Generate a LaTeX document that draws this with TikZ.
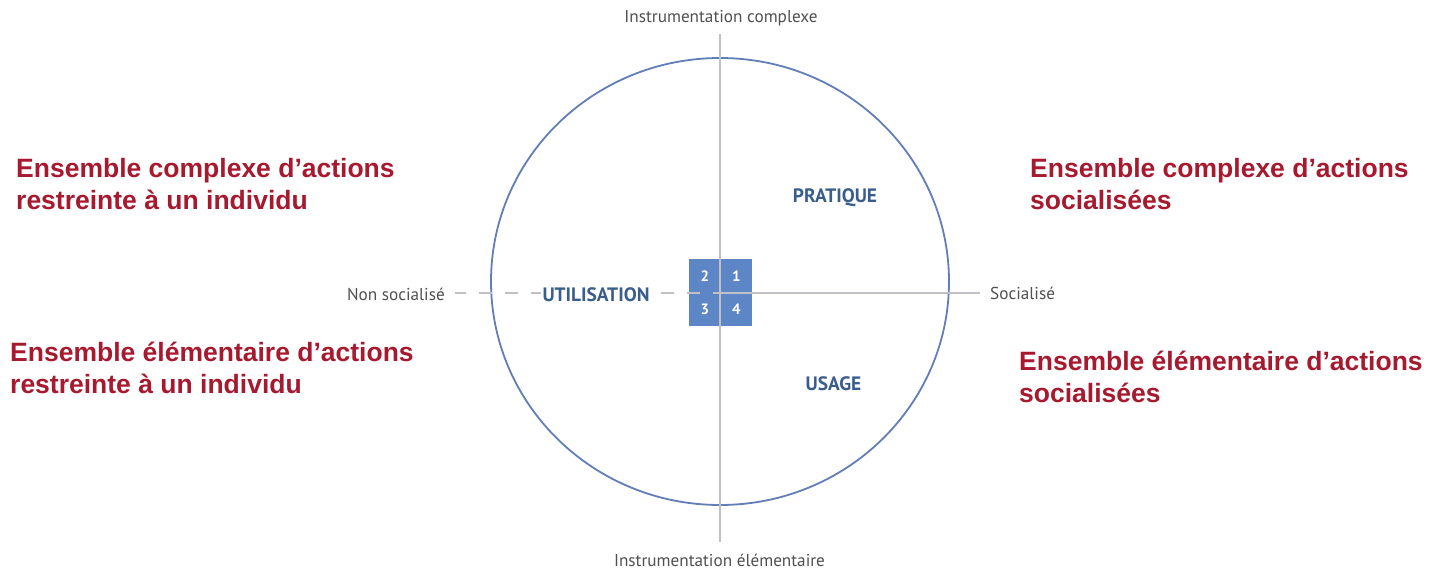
\documentclass[tikz,border=0pt]{standalone}
\usepackage{fontspec}
\setmainfont{Liberation Sans}
\newfontfamily\ptsans{PT Sans}
\definecolor{accentred}{RGB}{166,25,46}
\definecolor{ringblue}{RGB}{98,126,182}
\definecolor{cellblue}{RGB}{92,134,197}
\definecolor{labelblue}{RGB}{58,94,140}
\definecolor{axisgrey}{RGB}{192,192,198}
\definecolor{axistext}{RGB}{80,80,80}

\begin{document}
\begin{tikzpicture}[x=1pt,y=-1pt,
  redtxt/.style={font=\fontsize{26.5}{32}\selectfont\bfseries, text=accentred, anchor=base west, inner sep=0},
  axislabel/.style={font=\ptsans\fontsize{17.2}{20}\selectfont, text=axistext, inner sep=0},
  quadlabel/.style={font=\ptsans\bfseries\fontsize{19.4}{23}\selectfont, text=labelblue, anchor=base},
  cell/.style={fill=cellblue, minimum width=31.5pt, minimum height=33.5pt, inner sep=0,
    font=\ptsans\bfseries\fontsize{15}{17}\selectfont, text=white},
  axisline/.style={draw=axisgrey, line width=1.4pt},
  ring/.style={draw=ringblue, line width=1.8pt}]

% canvas
\path[use as bounding box, fill=white] (0,0) rectangle (1432,571);

% outer ring
\draw[ring] (720,281.5) ellipse [x radius=229, y radius=223.5];

% numbered cells at the crossing of the axes
\node[cell] (c2) at (704.75,275.75) {2};
\node[cell] (c1) at (736.25,275.75) {1};
\node[cell] (c3) at (704.75,309.25) {3};
\node[cell] (c4) at (736.25,309.25) {4};

% axis end points
\coordinate (vtop) at (720,34);
\coordinate (vbot) at (720,542);
\coordinate (hleft) at (455,293);
\coordinate (hmid) at (713,293);
\coordinate (hright) at (980,293);

% axes
\draw[axisline] (vtop) -- (vbot);
\draw[axisline] (hmid) -- (hright);
\draw[axisline, dash pattern=on 13pt off 13pt, dash phase=13pt] (hmid) -- (hleft);

% axis labels
\node[axislabel, anchor=base] (topl) at (721,22.5) {Instrumentation complexe};
\node[axislabel, anchor=base] (botl) at (719.5,566) {Instrumentation élémentaire};
\node[axislabel, anchor=base east] (leftl) at (445,300) {Non socialisé};
\node[axislabel, anchor=base west] (rightl) at (990,299.5) {Socialisé};

% quadrant names
\node[quadlabel, fill=white, inner sep=2pt] (util) at (596,301) {UTILISATION};
\node[quadlabel, inner sep=0] (prat) at (835,202) {PRATIQUE};
\node[quadlabel, inner sep=0] (usage) at (833.5,390) {USAGE};

% descriptions
\node[redtxt] (tla) at (16,177) {Ensemble complexe d’actions};
\node[redtxt] (tlb) at (16,209) {restreinte à un individu};
\node[redtxt] (bla) at (10,361) {Ensemble élémentaire d’actions};
\node[redtxt] (blb) at (10,393) {restreinte à un individu};
\node[redtxt] (tra) at (1030,177) {Ensemble complexe d’actions};
\node[redtxt] (trb) at (1030,209) {socialisées};
\node[redtxt] (bra) at (1019,370) {Ensemble élémentaire d’actions};
\node[redtxt] (brb) at (1019,402) {socialisées};
\end{tikzpicture}
\end{document}
